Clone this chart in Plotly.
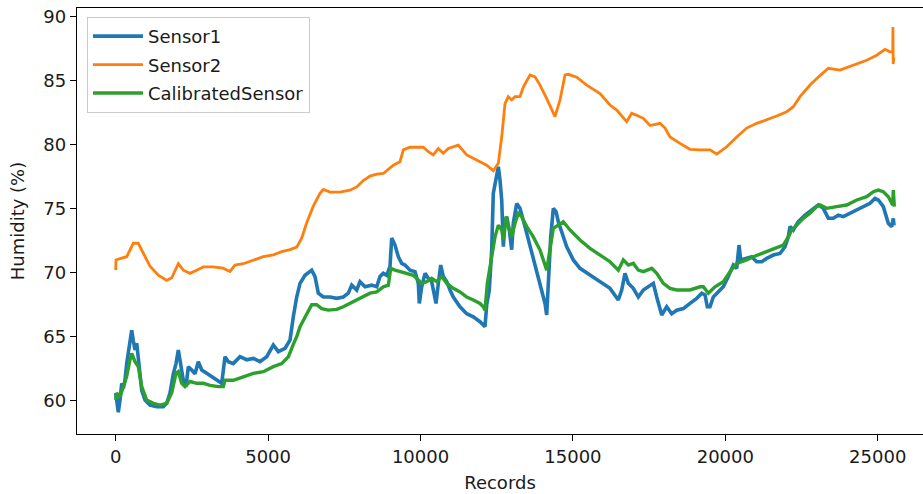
import plotly.graph_objects as go

# ---------------- data ----------------
s1_records = [0, 33, 85, 141, 197, 249, 305, 361, 446, 525, 577, 633, 689, 741, 797, 853, 961, 1125,
              1345, 1562, 1673, 1781, 1890, 1978, 2054, 2133, 2218, 2306, 2382, 2493, 2602, 2710, 2822,
              2986, 3150, 3314, 3478, 3586, 3694, 3858, 4078, 4298, 4514, 4734, 4954, 5171, 5335, 5554,
              5719, 5827, 5938, 6047, 6211, 6430, 6539, 6647, 6811, 7031, 7251, 7467, 7631, 7743, 7907,
              8015, 8179, 8399, 8563, 8671, 8780, 8891, 8999, 9055, 9163, 9272, 9383, 9491, 9656, 9820,
              9928, 9961, 10039, 10148, 10256, 10367, 10509, 10584, 10663, 10748, 10860, 10968, 11076,
              11296, 11516, 11732, 11952, 12116, 12172, 12257, 12336, 12388, 12477, 12553, 12608, 12664,
              12717, 12772, 12828, 12913, 12992, 13044, 13156, 13264, 13428, 13593, 13757, 13921, 14085,
              14140, 14192, 14272, 14357, 14446, 14521, 14633, 14797, 15013, 15233, 15561, 15889, 16217,
              16490, 16601, 16709, 16818, 16982, 17146, 17310, 17474, 17638, 17750, 17913, 18077, 18241,
              18406, 18622, 18842, 19062, 19226, 19334, 19410, 19498, 19606, 19770, 19934, 20098, 20263,
              20374, 20450, 20505, 20646, 20866, 21030, 21194, 21358, 21575, 21795, 21959, 22067, 22123,
              22231, 22395, 22615, 22835, 23051, 23215, 23379, 23543, 23707, 23871, 24091, 24311, 24527,
              24747, 24911, 25020, 25184, 25272, 25348, 25459, 25512, 25535]
s1_values = [60.6, 59.8, 59.1, 60.05, 61.36, 60.97, 61.6, 62.9, 64.5, 65.5, 64.7, 63.96, 64.5, 63.2, 62.1,
             60.8, 60.05, 59.66, 59.53, 59.53, 59.8, 60.6, 62.1, 62.9, 63.96, 62.9, 61.6, 61.1, 62.66,
             62.4, 62.1, 63.05, 62.4, 62.14, 61.9, 61.6, 61.36, 63.44, 63.05, 62.9, 63.44, 63.2, 63.3,
             63.05, 63.44, 64.35, 63.83, 64.09, 64.74, 66.56, 68.1, 69.17, 69.8, 70.2, 69.7, 68.4, 68.1,
             68.1, 68.0, 68.1, 68.4, 69.03, 68.65, 69.3, 68.9, 69.03, 68.9, 69.7, 69.95, 69.8, 70.5,
             72.7, 72.16, 71.25, 70.73, 70.6, 70.2, 70.08, 69.17, 67.6, 68.9, 69.95, 69.56, 69.3, 67.6,
             69.17, 70.6, 69.7, 69.3, 68.65, 68.1, 67.34, 66.8, 66.56, 66.17, 65.78, 67.5, 68.65, 71.8,
             76.2, 77.5, 78.28, 77.24, 75.68, 72.03, 73.86, 74.38, 73.34, 71.8, 73.86, 75.4, 75.03, 73.6,
             72.03, 70.47, 69.17, 67.6, 66.7, 69.17, 72.8, 75.03, 74.77, 73.98, 73.1, 72.03, 71.0, 70.34,
             69.82, 69.3, 68.78, 67.87, 68.65, 69.95, 69.17, 68.78, 68.1, 68.65, 68.9, 69.17, 68.1, 66.7,
             67.34, 66.8, 67.07, 67.2, 67.6, 68.0, 68.4, 68.26, 67.34, 67.34, 68.1, 68.5, 68.9, 69.7,
             70.6, 70.34, 72.16, 70.99, 71.12, 71.25, 70.86, 70.86, 71.12, 71.38, 71.5, 72.03, 72.8,
             73.6, 73.34, 74.0, 74.5, 74.9, 75.3, 75.03, 74.25, 74.25, 74.5, 74.38, 74.64, 74.9, 75.16,
             75.42, 75.8, 75.68, 75.16, 74.38, 73.86, 73.6, 74.25, 73.7]

s2_records = [0, 10, 141, 361, 577, 741, 912, 1125, 1398, 1673, 1837, 2054, 2218, 2438, 2657, 2874,
              3192, 3520, 3750, 3914, 4186, 4514, 4843, 5171, 5446, 5719, 5938, 6102, 6266, 6483, 6703,
              6811, 7031, 7359, 7687, 7907, 8123, 8343, 8563, 8780, 9108, 9327, 9436, 9656, 10092, 10256,
              10420, 10584, 10748, 10912, 11240, 11516, 11844, 12172, 12388, 12553, 12664, 12772, 12881,
              12992, 13100, 13264, 13373, 13593, 13757, 13921, 14140, 14413, 14577, 14741, 14849, 15125,
              15453, 15889, 16217, 16437, 16765, 16929, 17093, 17310, 17530, 17858, 18022, 18186, 18514,
              18842, 19170, 19498, 19718, 20046, 20374, 20702, 21030, 21358, 21686, 22014, 22231, 22451,
              22779, 23107, 23379, 23763, 24200, 24639, 24967, 25239, 25403, 25492, 25500, 25508, 25518,
              25528]
s2_values = [70.2, 71.0, 71.1, 71.25, 72.3, 72.3, 71.5, 70.5, 69.8, 69.4, 69.6, 70.7, 70.2, 69.95, 70.2,
             70.45, 70.45, 70.35, 70.1, 70.6, 70.7, 71.0, 71.25, 71.4, 71.65, 71.8, 72.0, 72.7, 73.9,
             75.2, 76.2, 76.5, 76.3, 76.3, 76.45, 76.7, 77.2, 77.55, 77.7, 77.75, 78.4, 78.67, 79.6,
             79.8, 79.8, 79.45, 79.2, 79.7, 79.33, 79.7, 79.97, 79.2, 78.8, 78.4, 77.97, 78.55, 80.6,
             83.2, 83.75, 83.5, 83.75, 83.75, 84.5, 85.45, 85.3, 84.66, 83.6, 82.2, 83.5, 85.45, 85.5,
             85.27, 84.66, 84.0, 83.1, 82.7, 81.8, 82.45, 82.3, 82.06, 81.5, 81.67, 81.3, 80.6, 80.1,
             79.64, 79.6, 79.6, 79.27, 79.84, 80.6, 81.3, 81.67, 81.93, 82.24, 82.58, 82.97, 83.75,
             84.66, 85.4, 85.97, 85.83, 86.2, 86.6, 86.99, 87.45, 87.26, 87.26, 89.2, 86.3, 88.6, 86.8]

cal_records = [0, 33, 141, 249, 361, 470, 525, 633, 741, 853, 1017, 1235, 1454, 1673, 1837, 1978, 2054,
               2165, 2274, 2438, 2657, 2874, 3094, 3366, 3530, 3586, 3858, 4186, 4514, 4843, 5171, 5446,
               5665, 5827, 5938, 6047, 6211, 6430, 6594, 6758, 6975, 7251, 7467, 7687, 7907, 8123, 8343,
               8563, 8780, 8944, 9023, 9163, 9327, 9547, 9764, 9928, 10039, 10203, 10367, 10531, 10695,
               10860, 11076, 11296, 11516, 11732, 11952, 12060, 12116, 12192, 12336, 12444, 12553, 12664,
               12717, 12805, 12881, 12992, 13100, 13209, 13320, 13484, 13701, 13921, 14140, 14249, 14357,
               14521, 14685, 14905, 15233, 15561, 15889, 16217, 16490, 16654, 16818, 16982, 17146, 17310,
               17585, 17750, 17966, 18186, 18406, 18514, 18842, 19170, 19280, 19443, 19662, 19934, 20154,
               20374, 20702, 20919, 21194, 21467, 21686, 21903, 22067, 22178, 22342, 22559, 22779, 22999,
               23107, 23327, 23655, 23983, 24311, 24639, 24856, 25020, 25184, 25348, 25492, 25512, 25545]
cal_values = [60.05, 60.6, 60.3, 61.1, 61.9, 63.2, 63.7, 63.05, 62.66, 61.1, 60.05, 59.8, 59.66, 59.8,
              60.6, 62.14, 62.27, 61.36, 61.1, 61.5, 61.36, 61.36, 61.2, 61.1, 61.1, 61.6, 61.6, 61.87,
              62.14, 62.27, 62.66, 62.9, 63.44, 64.4, 65.0, 65.78, 66.56, 67.5, 67.5, 67.2, 67.08, 67.14,
              67.34, 67.6, 67.87, 68.1, 68.4, 68.5, 68.9, 69.03, 70.34, 70.2, 70.08, 69.95, 69.8, 69.43,
              69.17, 69.3, 69.56, 69.3, 69.7, 69.17, 68.78, 68.5, 68.1, 67.87, 67.6, 67.34, 67.07, 69.17,
              71.25, 72.8, 73.72, 73.34, 72.55, 74.38, 73.6, 72.8, 73.86, 74.64, 74.38, 73.6, 72.8, 71.77,
              70.2, 71.77, 73.47, 73.72, 73.98, 73.34, 72.55, 71.9, 71.38, 70.86, 70.2, 71.0, 70.6, 70.73,
              70.2, 70.08, 70.34, 69.95, 69.17, 68.78, 68.65, 68.65, 68.65, 68.9, 68.9, 68.4, 68.9, 69.3,
              70.08, 70.73, 71.0, 71.25, 71.5, 71.77, 71.9, 72.16, 72.8, 73.34, 73.72, 74.25, 74.64,
              75.16, 75.29, 75.03, 75.16, 75.29, 75.68, 75.94, 76.33, 76.46, 76.33, 75.94, 75.29, 76.46,
              75.16]

x_ticks = [0, 5000, 10000, 15000, 20000, 25000]
x_tick_labels = ["0", "5000", "10000", "15000", "20000", "25000"]
y_ticks = [60, 65, 70, 75, 80, 85, 90]
y_tick_labels = ["60", "65", "70", "75", "80", "85", "90"]

# ---------------- figure ----------------
FONT = "DejaVu Sans"
fig = go.Figure()
fig.add_trace(go.Scatter(x=s1_records, y=s1_values, mode="lines", name="Sensor1",
                         legendgroup="a", line=dict(color="#1f77b4", width=3.6)))
fig.add_trace(go.Scatter(x=s2_records, y=s2_values, mode="lines", name="Sensor2",
                         legendgroup="b", line=dict(color="#ff7f0e", width=2.8)))
fig.add_trace(go.Scatter(x=cal_records, y=cal_values, mode="lines", name="CalibratedSensor",
                         legendgroup="c", line=dict(color="#2ca02c", width=3.4)))

axis_common = dict(showgrid=False, zeroline=False, showline=True, linecolor="black", linewidth=1.4,
                   ticks="outside", ticklen=6, tickwidth=1.4, tickcolor="black",
                   tickfont=dict(family=FONT, size=18, color="#1a1a1a"))

fig.update_layout(
    width=923, height=494,
    margin=dict(l=77, r=0, t=8, b=60),
    paper_bgcolor="white", plot_bgcolor="white",
    font=dict(family=FONT, size=18, color="#1a1a1a"),
    xaxis=dict(range=[-1270, 26486], tickvals=x_ticks, ticktext=x_tick_labels, mirror=True,
               title=dict(text="Records", font=dict(family=FONT, size=18), standoff=10),
               **axis_common),
    yaxis=dict(range=[57.40, 90.68], tickvals=y_ticks, ticktext=y_tick_labels, mirror=False,
               title=dict(text="Humidity (%)", font=dict(family=FONT, size=18), standoff=13),
               **axis_common),
    legend=dict(x=0.0118, y=0.979, xanchor="left", yanchor="top",
                bgcolor="rgba(255,255,255,0.8)", bordercolor="#cccccc", borderwidth=1,
                font=dict(family=FONT, size=18, color="#1a1a1a"),
                traceorder="grouped", tracegroupgap=2, itemwidth=50),
    showlegend=True,
)

fig.write_html("out.html")
